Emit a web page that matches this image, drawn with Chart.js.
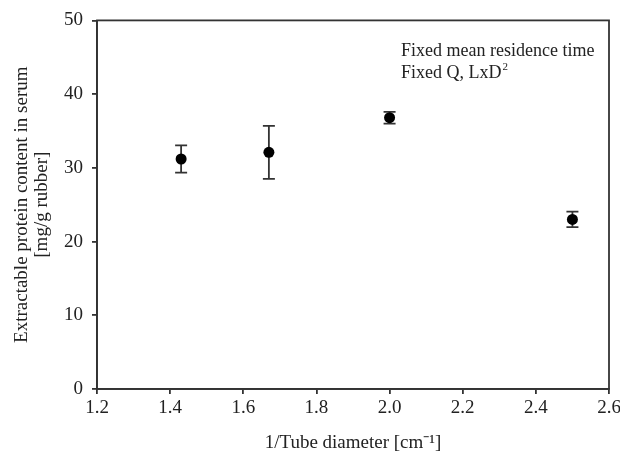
<!DOCTYPE html>
<html>
<head>
<meta charset="utf-8">
<script src="https://cdn.jsdelivr.net/npm/chart.js@4/dist/chart.umd.min.js"></script>
<style>
  html, body { margin: 0; padding: 0; background: #fff; }
  #wrap { width: 620px; height: 457px; }
</style>
</head>
<body>
<div id="wrap"><canvas id="chart" width="620" height="457"></canvas></div>
<script>
// Datos
const tubeDiameterInv = [1.43, 1.67, 2.0, 2.5];
const proteinContent = [31.2, 32.1, 36.8, 23.0];
const proteinError = [1.85, 3.6, 0.8, 1.05];
const xTicks = [1.2, 1.4, 1.6, 1.8, 2.0, 2.2, 2.4, 2.6];
const yTicks = [0, 10, 20, 30, 40, 50];
const noteLines = ['Fixed mean residence time', 'Fixed Q, LxD'];

const serif = "'Liberation Serif', 'Times New Roman', serif";
const ink = '#222';

// Barras de error (antes de los puntos)
const errorBars = {
    id: 'errorBars',
    beforeDatasetsDraw(chart) {
        const ctx = chart.ctx;
        const x = chart.scales.x;
        const y = chart.scales.y;
        ctx.save();
        ctx.strokeStyle = '#333';
        ctx.lineWidth = 1.8;
        tubeDiameterInv.forEach((xv, i) => {
            const px = x.getPixelForValue(xv);
            const top = y.getPixelForValue(proteinContent[i] + proteinError[i]);
            const bot = y.getPixelForValue(proteinContent[i] - proteinError[i]);
            ctx.beginPath();
            ctx.moveTo(px, top); ctx.lineTo(px, bot);
            ctx.moveTo(px - 6, top); ctx.lineTo(px + 6, top);
            ctx.moveTo(px - 6, bot); ctx.lineTo(px + 6, bot);
            ctx.stroke();
        });
        ctx.restore();
    }
};

// Marco y texto de la anotacion
const frameAndNote = {
    id: 'frameAndNote',
    afterDraw(chart) {
        const ctx = chart.ctx;
        const a = chart.chartArea;
        ctx.save();
        ctx.strokeStyle = '#333';
        ctx.lineWidth = 1.8;
        ctx.strokeRect(a.left, a.top, a.right - a.left, a.bottom - a.top);

        ctx.fillStyle = ink;
        ctx.font = '18px ' + serif;
        ctx.textBaseline = 'alphabetic';
        ctx.fillText(noteLines[0], 401, 56);
        ctx.fillText(noteLines[1], 401, 78);
        const w = ctx.measureText(noteLines[1]).width;
        ctx.font = '11px ' + serif;
        ctx.fillText('2', 401 + w + 1, 70);
        ctx.restore();
    }
};

const ctx = document.getElementById('chart').getContext('2d');
new Chart(ctx, {
    type: 'scatter',
    data: {
        datasets: [{
            data: tubeDiameterInv.map((xv, i) => ({ x: xv, y: proteinContent[i] })),
            backgroundColor: '#000',
            borderWidth: 0,
            pointRadius: 5.5,
            pointHoverRadius: 5.5
        }]
    },
    options: {
        responsive: false,
        animation: false,
        devicePixelRatio: 1,
        layout: { padding: { top: 20, right: 11, left: 0, bottom: 0 } },
        plugins: {
            legend: { display: false },
            tooltip: { enabled: false }
        },
        scales: {
            x: {
                type: 'linear',
                min: xTicks[0],
                max: xTicks[xTicks.length - 1],
                afterBuildTicks: (s) => { s.ticks = xTicks.map(v => ({ value: v })); },
                afterFit: (s) => { s.height = 68; s.paddingRight = 0; },
                ticks: {
                    color: ink,
                    font: { family: serif, size: 19 },
                    padding: 3,
                    maxRotation: 0,
                    callback: (v) => Number(v).toFixed(1)
                },
                grid: { drawOnChartArea: false, drawTicks: true, tickLength: 5, color: '#333', lineWidth: 1.8 },
                border: { display: true, color: '#333', width: 1.8 },
                title: {
                    display: true,
                    text: '1/Tube diameter [cm\u207B\u00B9]',
                    color: ink,
                    font: { family: serif, size: 19, lineHeight: 1.05 },
                    padding: { top: 0, bottom: 4 }
                }
            },
            y: {
                min: yTicks[0],
                max: yTicks[yTicks.length - 1],
                afterBuildTicks: (s) => { s.ticks = yTicks.map(v => ({ value: v })); },
                afterFit: (s) => { s.width = 97; },
                ticks: {
                    color: ink,
                    font: { family: serif, size: 19 },
                    padding: 9
                },
                grid: { drawOnChartArea: false, drawTicks: true, tickLength: 5, color: '#333', lineWidth: 1.8 },
                border: { display: true, color: '#333', width: 1.8 },
                title: {
                    display: true,
                    text: ['Extractable protein content in serum', '[mg/g rubber]'],
                    color: ink,
                    font: { family: serif, size: 19, lineHeight: 1.05 },
                    padding: { top: 12, bottom: 0 }
                }
            }
        }
    },
    plugins: [errorBars, frameAndNote]
});
</script>
</body>
</html>
